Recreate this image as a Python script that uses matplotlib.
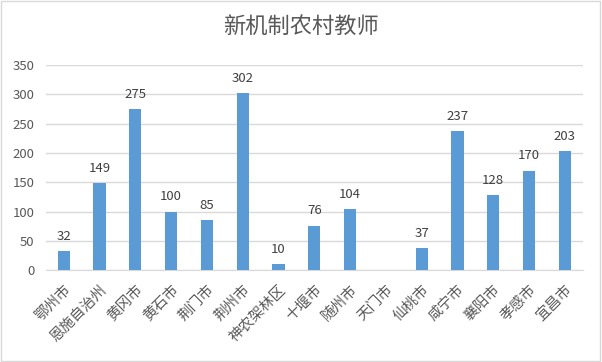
import matplotlib
matplotlib.use("Agg")
import matplotlib.pyplot as plt
from matplotlib.patches import Rectangle

plt.rcParams['font.family'] = ['Noto Sans CJK SC', 'DejaVu Sans']

categories = ["鄂州市", "恩施自治州", "黄冈市", "黄石市", "荆门市", "荆州市", "神农架林区",
              "十堰市", "随州市", "天门市", "仙桃市", "咸宁市", "襄阳市", "孝感市", "宜昌市"]
values = [32, 149, 275, 100, 85, 302, 10, 76, 104, None, 37, 237, 128, 170, 203]
title = "新机制农村教师"
yticks = [0, 50, 100, 150, 200, 250, 300, 350]

fig = plt.figure(figsize=(6.02, 3.62), dpi=100)
fig.patches.append(Rectangle((0.002, 0.003), 0.995, 0.993, transform=fig.transFigure,
                             fill=False, edgecolor="#d9d9d9", linewidth=1))
ax = fig.add_axes([0.076, 0.254, 0.892, 0.566])

x = list(range(len(categories)))
h = [v if v is not None else 0 for v in values]
ax.bar(x, h, width=0.34, color="#5b9bd5", zorder=3)
for xi, v in zip(x, values):
    if v is not None:
        ax.text(xi, v + 14, str(v), ha="center", va="bottom", fontsize=9.5, color="#404040")

ax.set_xlim(-0.5, len(categories) - 0.5)
ax.set_ylim(0, 350)
ax.set_yticks(yticks)
ax.set_yticklabels([str(t) for t in yticks], fontsize=9.5, color="#595959")
ax.set_xticks(x)
ax.set_xticklabels(categories, rotation=45, ha="right", rotation_mode="anchor",
                   fontsize=10.5, color="#595959")
ax.tick_params(axis="x", length=0, pad=9)
ax.tick_params(axis="y", length=0, pad=8)
ax.grid(axis="y", color="#d9d9d9", linewidth=1, zorder=0)
for s in ["top", "right", "left"]:
    ax.spines[s].set_visible(False)
ax.spines["bottom"].set_color("#d9d9d9")
fig.text(0.5, 0.928, title, ha="center", va="center", fontsize=16, color="#595959")

fig.savefig("out.png", dpi=100)
